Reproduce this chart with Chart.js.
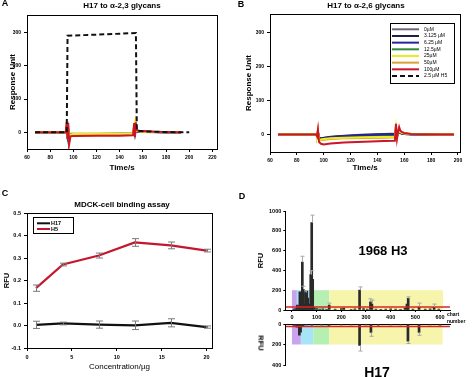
<!DOCTYPE html>
<html>
<head>
<meta charset="utf-8">
<script src="https://cdn.jsdelivr.net/npm/chart.js@4"></script>
<style>
body { margin: 0; background: #fff; width: 474px; height: 377px; position: relative; overflow: hidden;
       font-family: "Liberation Sans", Arial, sans-serif; }
canvas { position: absolute; }
.lbl { position: absolute; font-weight: bold; white-space: nowrap; transform: translate(-50%, -50%); color: #000; }
.lft { position: absolute; font-weight: bold; white-space: nowrap; transform: translate(0, -50%); color: #000; }
</style>
</head>
<body>
<canvas id="chartA" width="237" height="190" style="left:0;top:0"></canvas>
<canvas id="chartB" width="237" height="190" style="left:237px;top:0"></canvas>
<canvas id="chartC" width="237" height="187" style="left:0;top:190px"></canvas>
<canvas id="chartD1" width="237" height="127" style="left:237px;top:195px"></canvas>
<canvas id="chartD2" width="237" height="59" style="left:237px;top:318px"></canvas>

<div class="lbl" style="left:5px;top:3px;font-size:9px">A</div>
<div class="lbl" style="left:241px;top:4px;font-size:9px">B</div>
<div class="lbl" style="left:5px;top:193px;font-size:9px">C</div>
<div class="lbl" style="left:242px;top:196px;font-size:9px">D</div>
<div class="lbl" style="left:122px;top:5px;font-size:8px">H17 to α-2,3 glycans</div>
<div class="lbl" style="left:366px;top:5px;font-size:8px">H17 to α-2,6 glycans</div>
<div class="lbl" style="left:122px;top:204px;font-size:8px">MDCK-cell binding assay</div>
<div class="lbl" style="left:383px;top:250px;font-size:13px">1968 H3</div>
<div class="lbl" style="left:377px;top:372px;font-size:14px">H17</div>
<div class="lft" style="left:447px;top:314px;font-size:5px">chart</div>
<div class="lft" style="left:447px;top:321px;font-size:5px">number</div>
<div class="lbl" style="left:261px;top:343px;font-size:7.5px;transform:translate(-50%,-50%) rotate(90deg)">RFU</div>

<script>
// ---- panel A / B : binding sensorgrams (Response Unit vs time) ----
const concLabels = ['0µM', '3.125 µM', '6.25 µM', '12.5µM', '25µM', '50µM', '100µM'];
const h5Label = '2.5 µM H5';
const concColors = ['#6f6478', '#1d1d3d', '#25259c', '#2f8a3b', '#f0ec1c', '#d8a132', '#cc1529'];
const concOrder = [6, 5, 4, 4, 2, 3, 1];

const timeA = [67, 92, 93.5, 94.2, 94.9, 95.6, 96.3, 97.5, 100, 120, 140, 151.5, 152.5, 153.2, 153.9, 154.6, 156, 160, 170, 180, 193];
const a0   = [0, 0, 0, 5, -4, 4, -10, -4, -4, -4, -4, -4, 5, -3, 6, 2, 1, 1, 0, 0, 0];
const a3   = [0, 0, 0, 8, -6, 7, -15, -5, -5, -5, -4, -4, 8, -4, 10, 3, 2, 1, 1, 0, 0];
const a6   = [0, 0, 0, 10, -8, 9, -18, -6, -6, -5, -5, -5, 10, -5, 12, 3, 2, 2, 1, 0, 0];
const a12  = [0, 0, 0, 14, -10, 12, -22, -6, -6, -5, -5, -4, 14, -6, 15, 4, 3, 2, 1, 0, 0];
const a25  = [0, 0, 0, 18, -12, 15, -28, -6, -5, -4, -4, -4, 18, -8, 20, 5, 3, 2, 1, 1, 0];
const a50  = [0, 0, 0, 22, -15, 20, -30, -10, -9, -8, -8, -7, 22, -10, 24, 6, 4, 3, 2, 1, 0];
const a100 = [0, 0, 0, 30, -20, 28, -37, -12, -11, -10, -10, -9, 28, -14, 30, 8, 5, 4, 2, 1, 0];
const timeH5A = [67, 94.3, 95, 120, 154, 154.8, 160, 180, 200];
const h5A     = [0, 0, 290, 293, 298, 5, 3, 1, 0];

const timeB = [66, 93.5, 94.3, 95, 95.7, 96.5, 98, 100, 105, 115, 130, 145, 153, 153.8, 154.6, 155.4, 156.2, 157, 158, 160, 165, 175, 197];
const b0   = [0, 0, 0, -2, 5, -8, -11, -9, -6, -3, 0, 2, 3, 12, -2, 3, 8, 5, 3, 2, 1, 0, 0];
const b3   = [0, 0, 0, -2, 6, -9, -12, -10, -7, -4, -1, 1, 2, 14, -2, 3, 9, 5, 3, 2, 1, 0, 0];
const b6   = [0, 0, 0, -2, 7, -10, -12, -11, -8, -5, -2, 0, 1, 15, -3, 4, 10, 6, 4, 2, 1, 0, 0];
const b12  = [0, 0, 0, -3, 8, -12, -13, -12, -9, -6, -4, -2, -1, 18, -4, 4, 12, 7, 4, 3, 1, 0, 0];
const b25  = [0, 0, 0, -3, 10, -15, -14, -13, -11, -9, -8, -7, -6, 22, -6, 5, 14, 8, 5, 3, 2, 1, 0];
const b50  = [0, 0, 0, -4, 12, -18, -16, -15, -13, -11, -10, -9, -8, 25, -8, 6, 16, 9, 6, 4, 2, 1, 0];
const b100 = [0, 0, 0, -5, 15, -22, -27, -29, -26, -23, -21, -19, -18, 32, -12, 8, 22, 12, 8, 5, 2, 1, 0];

const ticksTimeA = [60, 80, 100, 120, 140, 160, 180, 200, 220];
const ticksTimeB = [60, 80, 100, 120, 140, 160, 180, 200];
const ticksRU = [0, 100, 200, 300];

// ---- panel C : MDCK-cell binding ----
const conc = [1, 4, 8, 12, 16, 20];
const h17Rfu = [0.003, 0.009, 0.004, 0.001, 0.012, -0.007];
const h17RfuErr = [0.016, 0.006, 0.016, 0.019, 0.018, 0.005];
const h5Rfu = [0.166, 0.271, 0.311, 0.369, 0.356, 0.333];
const h5RfuErr = [0.014, 0.006, 0.011, 0.017, 0.015, 0.006];
const ticksConc = [0, 5, 10, 15, 20];
const ticksRfu = [-0.1, 0, 0.1, 0.2, 0.3, 0.4, 0.5];

// ---- panel D : glycan array ----
const h3Chart = [8, 15, 22, 28, 32, 36, 42, 46, 50, 55, 60, 64, 70, 76, 80, 84, 90, 100, 112, 125, 140, 151, 175, 200, 210, 240, 255, 274, 290, 305, 318, 324, 340, 360, 380, 400, 420, 440, 458, 466, 471, 490, 515, 540, 560, 576, 595];
const h3Val   = [10, 15, 50, 20, 183, 40, 483, 210, 60, 177, 190, 120, 60, 357, 883, 310, 25, 15, 10, 12, 8, 50, 10, 15, 20, 8, 12, 200, 15, 10, 83, 60, 10, 8, 10, 12, 10, 8, 20, 60, 117, 10, 33, 10, 12, 30, 10];
const h3Err   = [0, 0, 0, 0, 0, 0, 60, 30, 0, 20, 0, 0, 0, 40, 75, 0, 0, 0, 0, 0, 0, 20, 0, 0, 0, 0, 0, 33, 0, 0, 30, 40, 0, 0, 0, 0, 0, 0, 0, 0, 16, 0, 37, 0, 0, 30, 0];
const h17Chart = [10, 20, 30, 35, 45, 60, 80, 120, 150, 200, 240, 274, 300, 320, 350, 400, 440, 470, 515, 560, 600];
const h17Val   = [15, 30, 110, 80, 20, 10, 12, 8, 15, 10, 8, 210, 10, 83, 12, 10, 8, 168, 83, 10, 12];
const h17Err   = [0, 0, 0, 0, 0, 0, 0, 0, 0, 0, 0, 54, 0, 37, 0, 0, 0, 22, 27, 0, 0];
const h3BandStart = [0, 20, 86, 151];
const h3BandEnd   = [20, 86, 151, 612];
const h17BandStart = [0, 36, 87, 151];
const h17BandEnd   = [36, 87, 151, 610];
const bandColors = ['#c9a3ee', '#a7e4f6', '#b5efb1', '#f7f4ab'];
const cutoffX = [-25, 640];
const cutoffH3 = 30;
const cutoffH17 = 25;
const ticksChart = [0, 100, 200, 300, 400, 500, 600];
const ticksH3 = [0, 200, 400, 600, 800, 1000];
const ticksH17 = [0, 200, 400];

const FONT = '"Liberation Sans", Arial, sans-serif';
Chart.defaults.font.family = FONT;
Chart.defaults.color = '#000';
Chart.defaults.animation = false;
Chart.defaults.responsive = false;
Chart.defaults.plugins.legend.display = false;
Chart.defaults.plugins.tooltip.enabled = false;
Chart.defaults.elements.point.radius = 0;

const pts = (xs, ys) => xs.map((x, i) => ({ x: x, y: ys[i] }));

// linear axis with fixed size and explicit ticks
function axis(o) {
  return {
    type: 'linear', position: o.position, min: o.min, max: o.max, reverse: !!o.reverse, offset: false,
    afterBuildTicks: s => { s.ticks = o.ticks.map(v => ({ value: v })); },
    afterFit: s => { if (s.isHorizontal()) s.height = o.size; else s.width = o.size; },
    grid: { display: true, drawOnChartArea: false, drawTicks: o.drawTicks !== false, tickLength: o.tickLen || 3,
            color: '#000', tickColor: '#000', lineWidth: 1, offset: false },
    border: { display: true, color: '#000', width: 1 },
    ticks: { display: o.showTicks !== false, padding: o.tickPad ?? 3, autoSkip: false, maxRotation: 0,
             font: { size: o.fontSize || 5, weight: 'bold' }, color: '#000',
             callback: o.format || (v => String(v)) },
    title: o.title ? { display: true, text: o.title, color: '#000', padding: o.titlePad,
                       font: { size: o.titleSize || 8, weight: o.titleWeight || 'bold' } } : { display: false }
  };
}

const frame = {
  id: 'frame',
  afterDraw(chart) {
    const { ctx, chartArea: a } = chart;
    ctx.save();
    ctx.strokeStyle = '#000';
    ctx.lineWidth = 1;
    ctx.strokeRect(Math.round(a.left) + 0.5, Math.round(a.top) + 0.5, Math.round(a.right - a.left), Math.round(a.bottom - a.top));
    ctx.restore();
  }
};

function boxLegend(o) {
  return {
    id: 'boxLegend',
    afterDraw(chart) {
      const ctx = chart.ctx;
      ctx.save();
      ctx.strokeStyle = '#000';
      ctx.lineWidth = 1;
      ctx.strokeRect(o.x + 0.5, o.y + 0.5, o.w, o.h);
      ctx.font = `${o.weight || 'normal'} ${o.size}px ${FONT}`;
      ctx.textBaseline = 'middle';
      chart.data.datasets.forEach((ds, i) => {
        const yy = o.y + o.first + i * o.row;
        ctx.beginPath();
        ctx.setLineDash(ds.borderDash || []);
        ctx.strokeStyle = ds.borderColor;
        ctx.lineWidth = 2;
        ctx.moveTo(o.x + o.l0, yy);
        ctx.lineTo(o.x + o.l1, yy);
        ctx.stroke();
        ctx.setLineDash([]);
        ctx.fillStyle = '#000';
        ctx.fillText(ds.label, o.x + o.tx, yy);
      });
      ctx.restore();
    }
  };
}

const errorBars = {
  id: 'errorBars',
  afterDatasetsDraw(chart) {
    const { ctx, scales: { x, y } } = chart;
    chart.data.datasets.forEach(ds => {
      if (!ds.errors) return;
      ctx.save();
      ctx.strokeStyle = ds.errorColor;
      ctx.lineWidth = 1;
      ds.data.forEach((p, j) => {
        const e = ds.errors[j];
        if (!e) return;
        const px = Math.round(x.getPixelForValue(p.x)) + 0.5;
        const hi = y.getPixelForValue(p.y + e);
        const lo = ds.errorUpOnly ? y.getPixelForValue(p.y) : y.getPixelForValue(p.y - e);
        const c = ds.capWidth / 2;
        ctx.beginPath();
        ctx.moveTo(px, lo); ctx.lineTo(px, hi);
        ctx.moveTo(px - c, hi); ctx.lineTo(px + c, hi);
        if (!ds.errorUpOnly) { ctx.moveTo(px - c, lo); ctx.lineTo(px + c, lo); }
        ctx.stroke();
      });
      ctx.restore();
    });
  }
};

function bands(start, end, colors, top) {
  return {
    id: 'bands',
    beforeDraw(chart) {
      const { ctx, scales: { x, y } } = chart;
      const y0 = y.getPixelForValue(0), y1 = y.getPixelForValue(top);
      ctx.save();
      start.forEach((s, i) => {
        const x0 = x.getPixelForValue(s), x1 = x.getPixelForValue(end[i]);
        ctx.fillStyle = colors[i];
        ctx.fillRect(x0, Math.min(y0, y1), x1 - x0, Math.abs(y1 - y0));
      });
      ctx.restore();
    }
  };
}

function sensorSets(times, series, h5Times, h5Vals) {
  const sets = series.map((vals, i) => ({
    label: concLabels[i], data: pts(times, vals), borderColor: concColors[i],
    borderWidth: 2, order: concOrder[i], tension: 0
  }));
  sets.push({ label: h5Label, data: pts(h5Times, h5Vals), borderColor: '#111',
              borderDash: [5, 3], borderWidth: 2, order: 0, tension: 0 });
  return sets;
}

// Panel A
new Chart(document.getElementById('chartA'), {
  type: 'line',
  data: { datasets: sensorSets(timeA, [a0, a3, a6, a12, a25, a50, a100], timeH5A, h5A) },
  options: {
    layout: { padding: { top: 15, right: 20, left: 0, bottom: 0 } },
    scales: {
      x: axis({ position: 'bottom', min: 60, max: 224, ticks: ticksTimeA, size: 41,
                title: 'Time/s', titlePad: { top: 0, bottom: 17 } }),
      y: axis({ position: 'left', min: -50, max: 352, ticks: ticksRU, size: 27,
                title: 'Response Unit', titlePad: { top: 8, bottom: 0 } })
    }
  },
  plugins: [frame]
});

// Panel B
new Chart(document.getElementById('chartB'), {
  type: 'line',
  data: { datasets: sensorSets(timeB, [b0, b3, b6, b12, b25, b50, b100], [], []) },
  options: {
    layout: { padding: { top: 14, right: 14, left: 0, bottom: 0 } },
    scales: {
      x: axis({ position: 'bottom', min: 60, max: 201.5, ticks: ticksTimeB, size: 38,
                title: 'Time/s', titlePad: { top: 0, bottom: 17 } }),
      y: axis({ position: 'left', min: -51, max: 354, ticks: ticksRU, size: 33,
                title: 'Response Unit', titlePad: { top: 7, bottom: 0 } })
    }
  },
  plugins: [frame, boxLegend({ x: 153, y: 23, w: 64, h: 60, first: 6.3, row: 6.67, l0: 2, l1: 29, tx: 34, size: 5 })]
});

// Panel C
new Chart(document.getElementById('chartC'), {
  type: 'line',
  data: {
    datasets: [
      { label: 'H17', data: pts(conc, h17Rfu), borderColor: '#111', borderWidth: 2.2, tension: 0,
        errors: h17RfuErr, errorColor: '#7a7a7a', capWidth: 7 },
      { label: 'H5', data: pts(conc, h5Rfu), borderColor: '#c4172e', borderWidth: 2.2, tension: 0,
        errors: h5RfuErr, errorColor: '#7a7a7a', capWidth: 7 }
    ]
  },
  options: {
    layout: { padding: { top: 23, right: 25, left: 0, bottom: 0 } },
    scales: {
      x: axis({ position: 'bottom', min: 0, max: 20.6, ticks: ticksConc, size: 29, fontSize: 5.5,
                title: 'Concentration/µg', titleSize: 8, titleWeight: 'normal', titlePad: { top: 0, bottom: 5 } }),
      y: axis({ position: 'left', min: -0.1, max: 0.5, ticks: ticksRfu, size: 27, fontSize: 5.5,
                format: v => v.toFixed(1),
                title: 'RFU', titleSize: 7.5, titlePad: { top: 2.5, bottom: 0 } })
    }
  },
  plugins: [frame, errorBars, boxLegend({ x: 33, y: 27, w: 40, h: 16, first: 6.3, row: 5.7, l0: 4, l1: 17, tx: 18, size: 5.5, weight: 'bold' })]
});

// Panel D top (1968 H3)
new Chart(document.getElementById('chartD1'), {
  type: 'bar',
  data: {
    datasets: [
      { type: 'line', label: 'cutoff', data: pts(cutoffX, [cutoffH3, cutoffH3]), borderColor: '#d92424',
        borderWidth: 1.5, order: 0 },
      { type: 'bar', label: '1968 H3', data: pts(h3Chart, h3Val), backgroundColor: '#2a2a2a',
        barThickness: 2, borderWidth: 0, order: 1,
        errors: h3Err, errorUpOnly: true, errorColor: '#a8a8a8', capWidth: 4 }
    ]
  },
  options: {
    layout: { padding: { top: 16, right: 23.6, left: 0, bottom: 0 } },
    scales: {
      x: axis({ position: 'bottom', min: -27, max: 642, ticks: ticksChart, size: 12, fontSize: 5.5,
                tickLen: 2, tickPad: 2 }),
      y: axis({ position: 'left', min: 0, max: 1000, ticks: ticksH3, size: 48.3, fontSize: 5.5,
                tickLen: 2, tickPad: 2,
                title: 'RFU', titleSize: 7.5, titlePad: { top: 19.5, bottom: 0 } })
    }
  },
  plugins: [bands(h3BandStart, h3BandEnd, bandColors, 200), errorBars]
});

// Panel D bottom (H17, inverted)
new Chart(document.getElementById('chartD2'), {
  type: 'bar',
  data: {
    datasets: [
      { type: 'line', label: 'cutoff', data: pts(cutoffX, [cutoffH17, cutoffH17]), borderColor: '#d92424',
        borderWidth: 1.5, order: 0 },
      { type: 'bar', label: 'H17', data: pts(h17Chart, h17Val), backgroundColor: '#2a2a2a',
        barThickness: 2, borderWidth: 0, order: 1,
        errors: h17Err, errorUpOnly: true, errorColor: '#a8a8a8', capWidth: 4 }
    ]
  },
  options: {
    layout: { padding: { top: 0, right: 23.6, left: 0, bottom: 12 } },
    scales: {
      x: axis({ position: 'top', min: -27, max: 642, ticks: ticksChart, size: 6, showTicks: false,
                drawTicks: false }),
      y: axis({ position: 'left', min: 0, max: 400, reverse: true, ticks: ticksH17, size: 48.3,
                fontSize: 5.5, tickLen: 2, tickPad: 2 })
    }
  },
  plugins: [bands(h17BandStart, h17BandEnd, bandColors, 200), errorBars]
});
</script>
</body>
</html>
